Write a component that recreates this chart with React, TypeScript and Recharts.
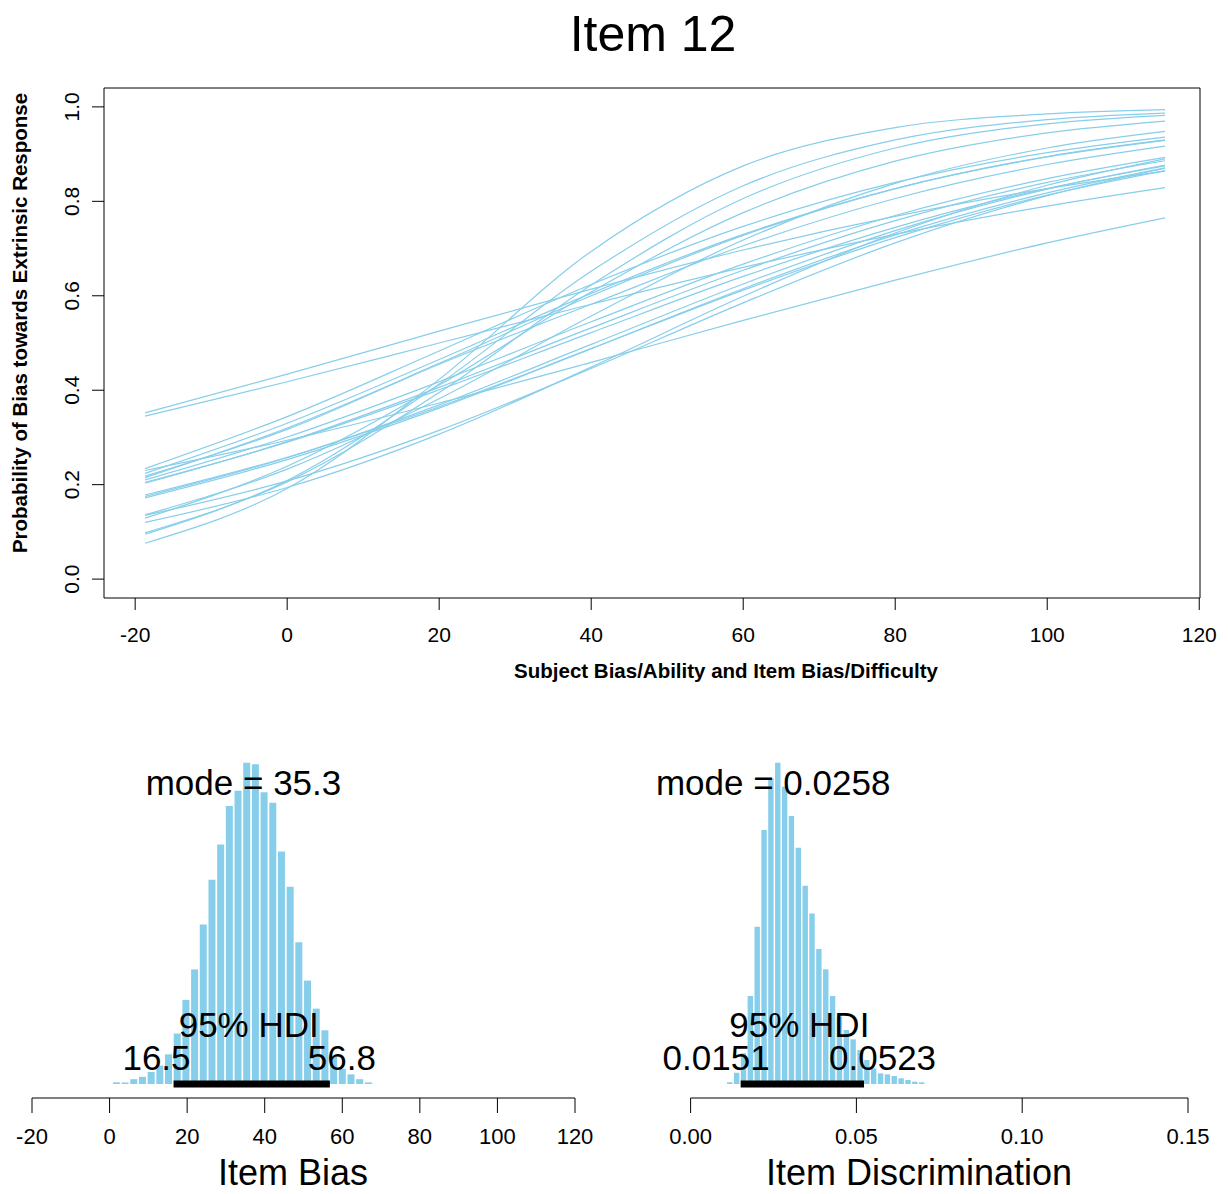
import React from "react";
import {
  LineChart,
  Line,
  BarChart,
  Bar,
  XAxis,
  YAxis,
  ReferenceArea,
  ReferenceLine,
  ReferenceDot,
} from "recharts";

const SKY = "#87CEEB";
const FONT = '"Liberation Sans", Arial, Helvetica, sans-serif';

// positions on the bias/difficulty scale where each credible curve was read
const curveX = [-18.7, 0, 20, 40, 60, 80, 100, 115.5];

// credible logistic curves, probability at each curveX
const curve01 = [0.076, 0.192, 0.423, 0.694, 0.875, 0.956, 0.985, 0.994];
const curve02 = [0.095, 0.209, 0.413, 0.652, 0.833, 0.93, 0.973, 0.987];
const curve03 = [0.098, 0.206, 0.395, 0.623, 0.806, 0.913, 0.964, 0.982];
const curve04 = [0.129, 0.239, 0.411, 0.608, 0.776, 0.885, 0.945, 0.97];
const curve05 = [0.136, 0.233, 0.382, 0.557, 0.718, 0.838, 0.913, 0.948];
const curve06 = [0.234, 0.344, 0.483, 0.624, 0.747, 0.84, 0.903, 0.936];
const curve07 = [0.224, 0.33, 0.465, 0.605, 0.73, 0.827, 0.894, 0.929];
const curve08 = [0.218, 0.317, 0.455, 0.582, 0.706, 0.806, 0.878, 0.917];
const curve09 = [0.21, 0.301, 0.418, 0.545, 0.667, 0.77, 0.848, 0.893];
const curve10 = [0.203, 0.291, 0.406, 0.532, 0.654, 0.759, 0.84, 0.886];
const curve11 = [0.175, 0.257, 0.369, 0.497, 0.625, 0.738, 0.826, 0.877];
const curve12 = [0.172, 0.253, 0.362, 0.488, 0.615, 0.729, 0.818, 0.871];
const curve13 = [0.352, 0.434, 0.525, 0.614, 0.697, 0.768, 0.827, 0.864];
const curve14 = [0.345, 0.418, 0.5, 0.582, 0.66, 0.73, 0.79, 0.829];
const curve15 = [0.23, 0.294, 0.373, 0.459, 0.548, 0.633, 0.712, 0.765];
const curve16 = [0.215, 0.32, 0.457, 0.6, 0.728, 0.827, 0.895, 0.93];
const curve17 = [0.205, 0.29, 0.401, 0.522, 0.641, 0.745, 0.827, 0.875];
const curve18 = [0.178, 0.258, 0.365, 0.488, 0.612, 0.723, 0.813, 0.865];
const curve19 = [0.12, 0.194, 0.307, 0.449, 0.599, 0.733, 0.834, 0.89];
const curve20 = [0.135, 0.208, 0.315, 0.446, 0.585, 0.712, 0.812, 0.87];

const curves = [
  curve01, curve02, curve03, curve04, curve05, curve06, curve07,
  curve08, curve09, curve10, curve11, curve12, curve13, curve14,
  curve15, curve16, curve17, curve18, curve19, curve20,
];

const lineXTicks = [-20, 0, 20, 40, 60, 80, 100, 120];
const lineYTicks = [0, 0.2, 0.4, 0.6, 0.8, 1];

// item bias posterior (bin mids, density)
const biasBins = [
  1.72, 3.96, 6.2, 8.44, 10.68, 12.92, 15.16, 17.4, 19.64, 21.88,
  24.12, 26.36, 28.6, 30.84, 33.08, 35.32, 37.56, 39.8, 42.04, 44.28,
  46.52, 48.76, 51.0, 53.24, 55.48, 57.72, 59.96, 62.2, 64.44, 66.68,
];
const biasDens = [
  0.0002, 0.0002, 0.0006, 0.0009, 0.0015, 0.0023, 0.0037, 0.0063, 0.0105, 0.0143,
  0.0199, 0.0255, 0.0299, 0.0347, 0.0366, 0.0401, 0.0399, 0.0364, 0.0351, 0.029,
  0.0246, 0.0177, 0.0129, 0.0094, 0.0067, 0.0035, 0.0019, 0.0012, 0.0006, 0.0002,
];
const biasTicks = [-20, 0, 20, 40, 60, 80, 100, 120];
const biasMode = 35.3;
const biasHdi = [16.5, 56.8];

// item discrimination posterior
const discBins = [
  0.01173, 0.0138, 0.01587, 0.01793, 0.02, 0.02207, 0.02413, 0.0262, 0.02827, 0.03033,
  0.0324, 0.03447, 0.03653, 0.0386, 0.04067, 0.04273, 0.0448, 0.04687, 0.04893, 0.051,
  0.05307, 0.05513, 0.0572, 0.05927, 0.06133, 0.0634, 0.06547, 0.06753, 0.0696,
];
const discDens = [
  0.27, 1.85, 5.01, 14.38, 25.71, 41.51, 49.96, 52.52, 48.6, 43.8,
  38.63, 32.42, 27.89, 22.06, 18.74, 14.38, 11.01, 8.83, 7.3, 5.56,
  3.92, 2.56, 1.74, 1.58, 1.31, 0.93, 0.65, 0.38, 0.27,
];
const discTicks = [0, 0.05, 0.1, 0.15];
const discMode = 0.0258;
const discHdi = [0.0151, 0.0523];

const lineData = curveX.map((x, i) => {
  const row: Record<string, number> = { x };
  curves.forEach((c, k) => {
    row[`c${k}`] = c[i];
  });
  return row;
});

const RotTick = (props: any) => {
  const { x, y, payload } = props;
  return (
    <text
      x={x}
      y={y}
      transform={`rotate(-90 ${x} ${y})`}
      textAnchor="middle"
      fontSize={21}
      fill="#000"
    >
      {Number(payload.value).toFixed(1)}
    </text>
  );
};

const annot =
  (txt: string, anchor: string, dx: number, dy: number) => (p: any) =>
    (
      <text
        x={p.viewBox.x + dx}
        y={p.viewBox.y + dy}
        textAnchor={anchor}
        fontSize={35}
        fill="#000"
      >
        {txt}
      </text>
    );

interface HistProps {
  bins: number[];
  dens: number[];
  xDomain: [number, number];
  yDomain: [number, number];
  ticks: number[];
  fmt?: (v: number) => string;
  barSize: number;
  margin: { top: number; right: number; bottom: number; left: number };
  mode: number;
  hdi: number[];
  numDx: [number, number];
}

function PostHist({
  bins,
  dens,
  xDomain,
  yDomain,
  ticks,
  fmt,
  barSize,
  margin,
  mode,
  hdi,
  numDx,
}: HistProps) {
  const data = bins.map((x, i) => ({ x, d: dens[i] }));
  return (
    <BarChart width={614} height={494} data={data} margin={margin} barCategoryGap={0} barGap={0}>
      <XAxis
        type="number"
        dataKey="x"
        domain={xDomain}
        allowDataOverflow
        ticks={ticks}
        interval={0}
        tickFormatter={fmt}
        height={60}
        tickSize={15}
        tickMargin={15}
        stroke="#000"
        tick={{ fill: "#000", fontSize: 22 }}
      />
      <YAxis hide type="number" domain={yDomain} allowDataOverflow />
      <Bar dataKey="d" fill={SKY} barSize={barSize} isAnimationActive={false} />
      <ReferenceLine
        segment={[
          { x: hdi[0], y: 0 },
          { x: hdi[1], y: 0 },
        ]}
        stroke="#000"
        strokeWidth={7}
      />
      <ReferenceDot x={mode} y={0} r={0} stroke="none" fill="none"
        label={annot(`mode = ${mode}`, "middle", -3, -289)} />
      <ReferenceDot x={(hdi[0] + hdi[1]) / 2} y={0} r={0} stroke="none" fill="none"
        label={annot("95% HDI", "middle", -3, -47)} />
      <ReferenceDot x={hdi[0]} y={0} r={0} stroke="none" fill="none"
        label={annot(String(hdi[0]), "end", numDx[0], -14)} />
      <ReferenceDot x={hdi[1]} y={0} r={0} stroke="none" fill="none"
        label={annot(String(hdi[1]), "start", numDx[1], -14)} />
    </BarChart>
  );
}

export default function App() {
  return (
    <div
      style={{
        position: "absolute",
        left: 0,
        top: 0,
        width: 1228,
        height: 1194,
        background: "#fff",
        fontFamily: FONT,
        overflow: "hidden",
      }}
    >
      <div style={{ position: "absolute", left: 0, top: 0 }}>
        <LineChart
          width={1228}
          height={700}
          data={lineData}
          margin={{ top: 88, right: 28, bottom: 42, left: 44 }}
        >
          <XAxis
            type="number"
            dataKey="x"
            domain={[-24.1, 120.1]}
            allowDataOverflow
            ticks={lineXTicks}
            interval={0}
            height={60}
            axisLine={false}
            tickSize={12}
            tickMargin={17}
            stroke="#000"
            tick={{ fill: "#000", fontSize: 21 }}
          />
          <YAxis
            type="number"
            domain={[-0.04, 1.04]}
            allowDataOverflow
            ticks={lineYTicks}
            interval={0}
            width={60}
            axisLine={false}
            tickSize={12}
            tickMargin={13}
            stroke="#000"
            tick={<RotTick />}
          />
          {curves.map((_, k) => (
            <Line
              key={k}
              dataKey={`c${k}`}
              type="monotone"
              stroke={SKY}
              strokeWidth={1.2}
              dot={false}
              activeDot={false}
              isAnimationActive={false}
            />
          ))}
          <ReferenceArea
            x1={-24.1}
            x2={120.1}
            y1={-0.04}
            y2={1.04}
            fill="none"
            stroke="#000"
            strokeWidth={1}
            ifOverflow="visible"
          />
        </LineChart>
      </div>

      <div style={{ position: "absolute", left: 0, top: 700 }}>
        <PostHist
          bins={biasBins}
          dens={biasDens}
          xDomain={[-20, 120]}
          yDomain={[-0.00175, 0.04293]}
          ticks={biasTicks}
          barSize={7}
          margin={{ top: 40, right: 39, bottom: 36, left: 32 }}
          mode={biasMode}
          hdi={biasHdi}
          numDx={[17, -22]}
        />
      </div>

      <div style={{ position: "absolute", left: 614, top: 700 }}>
        <PostHist
          bins={discBins}
          dens={discDens}
          xDomain={[0, 0.15]}
          yDomain={[-2.288, 56.23]}
          ticks={discTicks}
          fmt={(v: number) => v.toFixed(2)}
          barSize={5.4}
          margin={{ top: 40, right: 40, bottom: 36, left: 76.6 }}
          mode={discMode}
          hdi={discHdi}
          numDx={[29, -35]}
        />
      </div>

      <svg
        width={1228}
        height={1194}
        style={{ position: "absolute", left: 0, top: 0, pointerEvents: "none" }}
      >
        <text x={653} y={51} textAnchor="middle" fontSize={50} fill="#000">
          Item 12
        </text>
        <text x={726} y={678} textAnchor="middle" fontSize={20.5} fontWeight="bold" fill="#000">
          Subject Bias/Ability and Item Bias/Difficulty
        </text>
        <text
          x={27}
          y={323}
          transform="rotate(-90 27 323)"
          textAnchor="middle"
          fontSize={20.5}
          fontWeight="bold"
          fill="#000"
        >
          Probability of Bias towards Extrinsic Response
        </text>
        <text x={293} y={1185} textAnchor="middle" fontSize={36} fill="#000">
          Item Bias
        </text>
        <text x={919} y={1185} textAnchor="middle" fontSize={36} fill="#000">
          Item Discrimination
        </text>
      </svg>
    </div>
  );
}
